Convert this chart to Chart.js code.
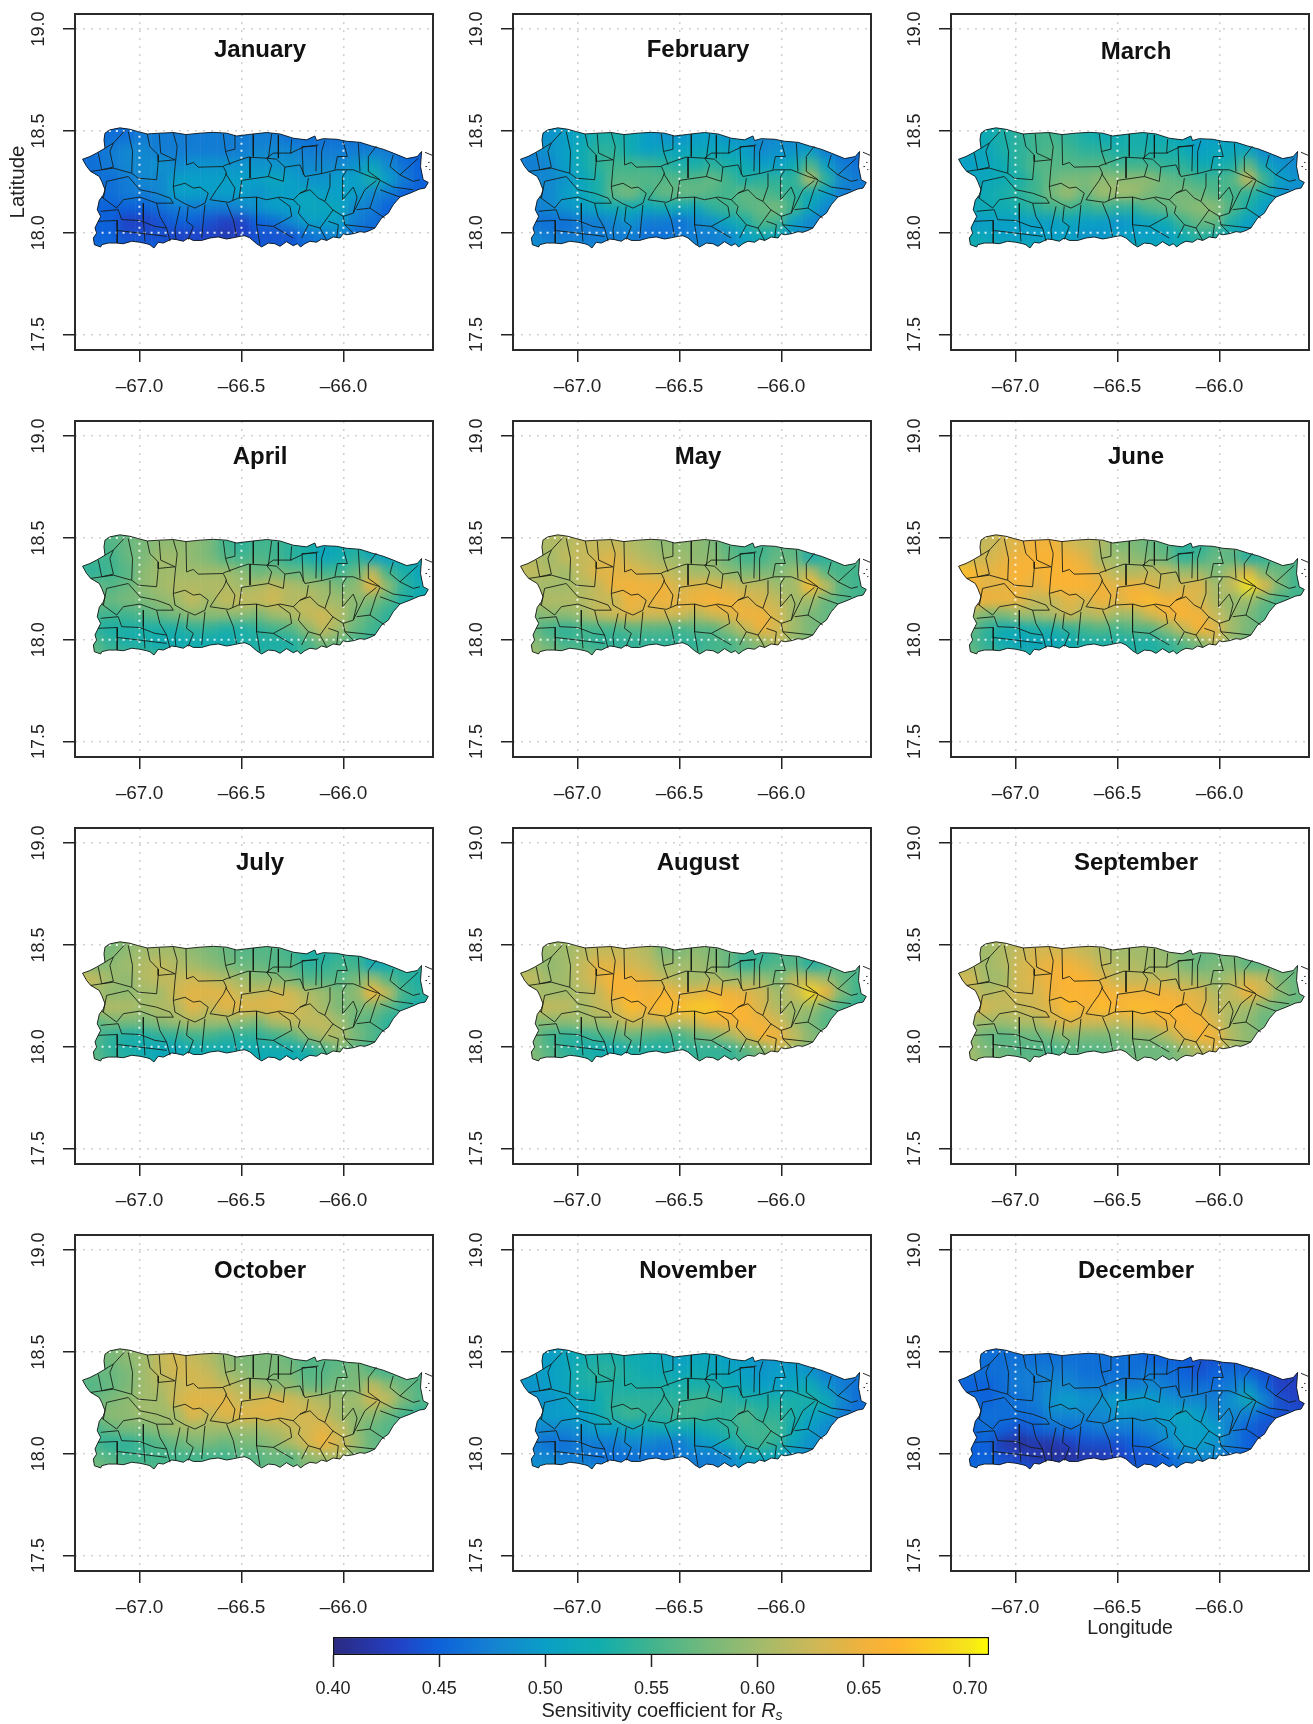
<!DOCTYPE html>
<html><head><meta charset="utf-8">
<style>html,body{margin:0;padding:0;background:#fff;overflow:hidden}canvas{position:absolute;display:block}</style>
<script src="https://cdn.jsdelivr.net/npm/chart.js@4"></script>
</head><body>
<script>
const months=['January','February','March','April','May','June','July','August','September','October','November','December'];
const lonTicks=[-67,-66.5,-66];
const latTicks=[17.5,18,18.5,19];
const colorbarTicks=[0.40,0.45,0.50,0.55,0.60,0.65,0.70];
const lonCols=[-67.30,-67.22,-67.14,-67.06,-66.98,-66.90,-66.82,-66.74,-66.66,-66.58,-66.50,-66.42,-66.34,-66.26,-66.18,-66.10,-66.02,-65.94,-65.86,-65.78,-65.70,-65.62];
const latRows=[18.47,18.40,18.33,18.26,18.19,18.12,18.05,17.98,17.91];
const northCapLat=18.54;
// sensitivity coefficient x 100, one row per latitude, one column per longitude
const january=[
[46,46,46,46,47,47,47,47,47,47,47,47,47,46,46,46,46,46,46,46,45,45],
[46,46,47,48,48,47,47,47,47,47,47,48,48,48,47,47,47,47,47,47,45,45],
[46,46,47,48,48,49,48,49,49,49,49,49,49,49,48,48,48,49,51,48,46,45],
[46,46,46,47,48,48,50,50,50,50,50,50,51,50,49,49,50,50,53,50,47,45],
[46,46,46,47,47,48,50,50,50,50,50,49,50,50,51,50,50,50,48,47,45,45],
[45,45,45,45,45,46,47,47,47,47,48,49,50,50,51,51,51,48,47,45,45,45],
[45,45,45,43,43,44,45,45,44,43,43,45,46,48,50,50,50,47,46,45,45,45],
[45,45,45,44,44,44,43,43,43,42,43,44,44,44,46,47,48,46,45,45,45,45],
[46,46,46,45,45,45,45,45,45,45,45,45,45,45,46,46,46,46,45,45,45,45]];
const february=[
[49,49,49,50,51,53,53,52,50,49,49,50,50,49,49,48,48,48,47,47,47,47],
[48,48,49,50,52,54,54,52,50,51,51,51,51,51,50,48,49,49,50,47,46,46],
[47,47,48,50,52,54,55,55,55,54,53,53,54,53,52,50,50,52,56,50,47,46],
[48,48,48,49,51,53,56,56,56,56,56,56,57,55,53,54,54,54,62,54,48,47],
[48,48,48,50,51,53,57,58,55,57,57,57,56,55,57,56,55,54,52,50,47,47],
[47,47,48,49,50,51,52,52,51,52,52,51,54,55,56,57,58,55,51,48,47,47],
[47,46,46,46,47,47,48,49,47,47,46,48,49,51,53,56,55,50,48,47,47,47],
[48,48,47,47,47,47,47,47,46,46,47,47,47,48,50,52,51,49,48,48,48,48],
[49,49,48,48,48,48,48,48,48,48,48,48,48,48,50,50,50,49,49,49,49,49]];
const march=[
[52,52,52,53,54,55,55,54,53,52,52,53,52,52,51,50,50,50,49,49,49,49],
[51,51,51,53,54,55,56,55,54,54,53,53,53,53,52,50,51,51,51,48,48,48],
[50,50,51,52,54,56,56,56,56,56,55,55,55,54,54,52,52,53,57,51,49,48],
[51,51,51,52,53,55,57,58,58,59,59,59,59,57,56,55,55,56,63,55,50,49],
[51,51,52,53,54,55,58,60,57,60,60,60,58,57,58,57,56,55,54,52,49,48],
[51,51,52,52,53,54,55,55,54,55,54,54,56,57,58,59,59,56,53,50,49,49],
[51,49,50,50,50,50,50,51,50,50,49,50,51,52,55,57,57,53,50,49,49,49],
[52,52,51,50,50,50,50,50,49,49,50,50,50,50,52,54,53,51,50,50,50,50],
[53,53,52,52,52,52,52,52,52,52,52,52,52,52,52,53,53,52,52,52,52,52]];
const april=[
[56,56,56,57,58,59,59,59,58,55,54,55,55,54,53,51,52,53,52,53,54,54],
[55,55,55,57,58,60,60,59,58,56,55,56,55,54,53,51,52,54,51,50,52,52],
[54,54,55,56,59,60,60,60,60,60,59,57,58,57,57,55,55,57,62,55,53,51],
[57,57,56,57,59,60,61,61,61,61,60,61,62,61,60,60,58,59,65,59,54,52],
[58,58,57,58,58,59,60,62,60,62,62,62,63,61,62,60,60,59,58,56,53,52],
[56,55,55,55,56,57,58,59,59,59,59,58,60,61,62,63,61,58,56,54,53,53],
[55,54,53,53,53,53,53,54,54,53,53,54,55,56,59,62,60,57,55,54,53,53],
[56,56,54,53,53,52,52,52,52,52,53,53,53,53,55,58,57,55,54,54,54,54],
[57,57,56,56,55,55,54,54,54,54,54,54,54,54,55,55,55,55,55,55,55,55]];
const may=[
[60,60,61,61,62,62,62,61,60,59,59,59,58,56,55,55,56,56,57,57,57,57],
[61,61,60,62,62,63,64,62,61,60,60,59,59,57,55,55,57,57,52,54,56,56],
[62,62,61,60,62,64,64,64,63,62,61,60,60,59,58,58,58,60,62,56,55,55],
[60,60,60,60,61,62,65,65,65,65,63,64,64,63,62,62,60,60,67,62,56,55],
[61,61,61,61,61,62,62,65,64,65,64,65,66,65,64,63,62,60,60,57,56,55],
[59,58,59,59,60,62,63,64,63,63,63,61,63,64,65,65,63,60,58,57,55,55],
[58,57,55,54,55,55,55,56,56,56,55,56,56,59,62,65,63,60,58,57,57,57],
[59,59,57,55,55,54,54,54,54,54,54,54,55,55,57,59,62,59,58,58,58,58],
[60,60,59,58,57,57,56,56,56,56,56,56,56,56,57,58,59,59,59,59,59,59]];
const june=[
[62,62,62,63,64,65,65,63,62,61,58,58,57,56,54,54,56,58,56,57,58,58],
[62,62,63,64,65,66,66,65,64,60,60,59,58,57,54,55,57,56,53,54,56,56],
[68,67,64,65,66,65,66,66,65,63,61,61,62,62,60,60,58,61,64,58,57,55],
[65,65,64,64,65,64,66,66,66,65,64,65,64,62,63,64,60,62,70,64,58,55],
[65,65,65,65,64,62,62,64,63,65,64,66,67,65,65,63,61,59,60,57,55,55],
[62,60,58,58,60,60,61,63,61,62,60,60,63,65,66,65,62,60,58,56,55,55],
[58,57,54,52,52,53,53,54,55,56,55,56,56,59,62,66,64,60,58,56,56,56],
[57,56,54,52,51,51,51,52,53,53,53,53,53,54,56,58,62,59,57,57,57,57],
[58,58,56,55,54,53,53,53,54,54,54,54,54,54,55,57,58,58,58,58,58,58]];
const july=[
[58,58,58,59,60,60,60,59,58,57,56,56,56,55,53,53,54,54,54,55,55,55],
[58,58,59,60,61,62,61,60,59,58,57,57,56,56,54,54,55,55,51,52,54,54],
[63,62,60,59,61,62,62,63,62,61,60,59,59,58,56,56,56,58,60,56,54,53],
[60,60,59,59,60,60,63,64,64,64,62,62,63,63,61,60,58,59,66,62,55,54],
[61,62,61,61,60,61,61,64,62,64,64,64,64,63,62,60,58,58,58,56,54,52],
[58,56,58,58,58,59,60,61,60,60,59,58,61,62,62,62,60,57,56,54,53,53],
[57,56,54,53,53,54,54,55,55,54,54,54,55,56,59,61,61,58,56,54,54,54],
[56,56,54,53,52,51,51,52,52,52,52,52,52,52,53,55,58,56,55,55,55,55],
[57,57,55,54,53,52,52,52,53,53,53,52,52,52,52,54,55,55,56,56,56,56]];
const august=[
[59,59,60,60,61,62,62,62,61,58,58,59,58,57,55,54,55,56,56,57,57,57],
[60,60,59,60,62,64,64,63,62,60,60,60,59,57,54,55,56,56,53,54,56,56],
[62,62,60,60,62,64,66,65,64,62,61,60,61,60,60,60,58,62,62,60,57,55],
[60,60,60,60,61,62,65,66,65,66,64,64,65,65,64,63,60,62,69,65,58,55],
[63,63,62,62,60,62,63,67,65,67,67,68,68,66,66,63,61,60,60,57,55,54],
[60,58,59,59,60,60,61,63,62,63,62,63,65,65,66,65,63,60,58,56,55,55],
[59,58,55,54,54,55,56,57,56,55,55,57,58,60,63,66,65,62,59,57,56,56],
[58,58,56,54,53,52,52,53,53,53,54,54,54,54,56,58,62,60,58,58,58,58],
[59,59,57,56,54,54,53,54,55,55,55,55,55,55,56,58,59,59,59,59,59,59]];
const september=[
[60,60,60,61,62,63,63,63,62,61,60,60,60,59,58,57,57,58,58,58,58,58],
[61,61,60,61,63,64,65,65,64,62,61,61,60,60,58,57,58,58,56,56,57,57],
[63,63,60,60,63,64,65,66,66,64,62,62,62,62,61,60,59,61,63,62,58,57],
[62,62,61,62,63,63,65,66,66,66,65,65,65,65,64,64,61,62,65,63,59,57],
[64,64,63,62,62,63,64,67,65,67,66,67,67,66,66,64,62,61,60,58,57,57],
[61,60,60,60,61,61,63,64,63,63,62,63,64,65,66,66,63,60,59,57,57,57],
[60,59,57,56,57,57,58,59,58,58,58,59,59,61,64,66,65,61,59,58,58,58],
[60,60,58,57,56,56,55,56,56,56,57,57,57,57,59,61,63,60,59,59,59,59],
[60,60,59,58,57,57,56,57,57,57,58,58,58,58,58,60,60,60,60,60,60,60]];
const october=[
[58,58,58,59,60,62,63,62,61,59,58,58,58,57,56,56,56,57,56,56,56,56],
[57,57,57,58,60,62,63,63,62,60,59,58,58,58,56,56,57,58,56,55,56,56],
[56,56,57,58,60,61,62,63,63,62,61,60,59,59,57,57,58,58,62,59,57,56],
[57,57,58,59,60,60,63,64,64,64,62,63,64,63,62,61,60,60,63,62,58,56],
[58,58,59,59,60,60,60,64,62,64,64,64,64,63,63,62,60,59,59,57,55,54],
[56,55,57,58,58,59,60,60,60,60,60,60,61,62,63,64,62,59,57,56,55,55],
[56,55,54,54,55,56,57,58,58,57,58,58,59,61,63,65,63,60,57,56,56,56],
[57,57,56,55,55,55,55,55,55,55,56,56,57,56,59,60,61,58,57,57,57,57],
[58,58,57,56,56,56,56,56,56,56,57,57,57,57,58,58,59,58,58,58,58,58]];
const november=[
[50,50,50,51,52,53,53,52,52,51,50,51,51,50,50,49,49,49,49,48,48,48],
[50,50,50,51,53,54,54,53,52,52,51,52,51,51,50,49,50,50,49,47,47,47],
[49,49,50,51,53,53,53,53,53,53,53,53,53,52,51,50,50,51,52,49,47,46],
[49,49,49,50,51,52,54,54,54,54,54,55,55,54,53,53,53,53,53,52,48,46],
[49,49,50,50,50,52,54,55,54,54,55,55,54,54,56,54,54,53,51,50,47,46],
[48,48,48,48,49,50,50,51,51,52,52,52,53,54,55,55,55,52,50,48,47,47],
[48,47,46,46,47,47,47,48,48,47,47,49,50,52,54,55,54,51,49,48,47,47],
[49,48,48,47,47,46,46,46,46,46,47,47,47,48,50,51,51,49,48,48,48,48],
[49,49,49,48,48,48,47,47,47,47,47,47,47,48,49,49,49,49,49,49,49,49]];
const december=[
[46,46,46,46,46,46,46,46,46,46,46,46,45,45,45,44,44,44,44,44,44,44],
[46,46,46,46,47,47,47,47,46,46,46,46,47,46,45,44,45,46,45,44,43,43],
[45,45,45,46,47,47,48,48,47,47,47,47,48,47,46,46,46,47,49,45,43,43],
[46,46,45,46,46,47,49,50,49,49,50,50,50,49,48,48,47,49,52,48,44,43],
[46,46,46,46,46,46,48,48,48,48,49,49,49,50,51,50,48,48,47,45,44,44],
[45,45,46,45,44,45,46,46,46,47,47,47,48,49,50,50,50,47,45,44,44,44],
[45,45,45,42,41,42,42,43,44,44,44,45,46,48,50,50,49,47,45,44,44,44],
[45,45,45,44,43,42,41,41,42,42,43,44,44,45,47,48,48,46,45,45,45,45],
[46,46,46,45,45,44,44,44,44,44,44,45,45,45,46,46,46,46,46,46,46,46]];
const monthValues=[january,february,march,april,may,june,july,august,september,october,november,december];

// island coastline, [longitude, latitude]
const coast=[[-67.169,18.489],[-67.145,18.505],[-67.096,18.515],[-67.047,18.508],[-67.001,18.495],[-66.962,18.485],[-66.9,18.489],[-66.834,18.492],[-66.772,18.482],[-66.703,18.489],[-66.638,18.493],[-66.573,18.489],[-66.524,18.475],[-66.442,18.485],[-66.377,18.492],[-66.311,18.485],[-66.246,18.464],[-66.181,18.456],[-66.14,18.475],[-66.132,18.453],[-66.099,18.462],[-66.034,18.459],[-65.984,18.449],[-65.919,18.444],[-65.862,18.426],[-65.805,18.41],[-65.756,18.391],[-65.69,18.364],[-65.638,18.374],[-65.617,18.399],[-65.622,18.325],[-65.609,18.26],[-65.584,18.247],[-65.6,18.219],[-65.628,18.214],[-65.674,18.194],[-65.723,18.175],[-65.756,18.137],[-65.78,18.096],[-65.813,18.072],[-65.846,18.023],[-65.87,18.011],[-65.895,18.002],[-65.919,18.005],[-65.952,17.995],[-65.984,17.99],[-66.001,17.995],[-66.017,17.974],[-66.05,17.979],[-66.082,17.962],[-66.107,17.969],[-66.132,17.953],[-66.164,17.958],[-66.189,17.946],[-66.21,17.93],[-66.226,17.946],[-66.246,17.936],[-66.279,17.956],[-66.311,17.933],[-66.336,17.946],[-66.368,17.949],[-66.401,17.93],[-66.426,17.946],[-66.458,17.974],[-66.483,17.985],[-66.507,17.982],[-66.54,17.975],[-66.573,17.969],[-66.614,17.979],[-66.654,17.974],[-66.695,17.962],[-66.736,17.962],[-66.761,17.974],[-66.785,17.958],[-66.818,17.966],[-66.842,17.969],[-66.883,17.949],[-66.908,17.953],[-66.929,17.925],[-66.949,17.941],[-66.965,17.946],[-66.998,17.953],[-67.038,17.958],[-67.079,17.946],[-67.112,17.949],[-67.153,17.949],[-67.185,17.941],[-67.19,17.93],[-67.221,17.941],[-67.226,17.974],[-67.21,17.998],[-67.218,18.023],[-67.207,18.047],[-67.19,18.08],[-67.207,18.113],[-67.197,18.159],[-67.177,18.186],[-67.169,18.211],[-67.185,18.252],[-67.197,18.276],[-67.239,18.301],[-67.259,18.325],[-67.279,18.361],[-67.243,18.374],[-67.21,18.391],[-67.169,18.415],[-67.174,18.456],[-67.169,18.489]];
// small outlying cays east of the main island
const cays=[[[-65.6,18.395],[-65.565,18.38]],[[-65.585,18.345],[-65.578,18.345]],[[-65.598,18.325],[-65.59,18.325]],[[-65.58,18.31],[-65.574,18.31]]];
// municipal boundaries, [longitude, latitude]
const boundaries=[
[[-67.169,18.415],[-67.128,18.44],[-67.071,18.502]],
[[-67.128,18.44],[-67.145,18.399],[-67.128,18.322],[-67.185,18.309],[-67.239,18.301]],
[[-67.202,18.391],[-67.185,18.309]],
[[-67.055,18.497],[-67.034,18.399],[-67.038,18.292]],
[[-67.185,18.309],[-67.128,18.317],[-67.038,18.292],[-67.006,18.268],[-66.916,18.26],[-66.908,18.35]],
[[-66.962,18.485],[-66.949,18.423],[-66.908,18.382],[-66.908,18.35],[-66.826,18.358]],
[[-66.903,18.485],[-66.896,18.391],[-66.826,18.358]],
[[-66.834,18.489],[-66.815,18.423],[-66.826,18.322],[-66.834,18.227]],
[[-66.772,18.482],[-66.769,18.333],[-66.736,18.345],[-66.712,18.322],[-66.589,18.325],[-66.573,18.292],[-66.589,18.257],[-66.622,18.211],[-66.654,18.162]],
[[-66.589,18.328],[-66.507,18.358],[-66.467,18.371],[-66.377,18.366],[-66.352,18.333],[-66.368,18.276],[-66.499,18.257],[-66.511,18.17]],
[[-66.556,18.333],[-66.578,18.399],[-66.532,18.41],[-66.532,18.48]],
[[-66.578,18.399],[-66.589,18.485]],
[[-66.458,18.371],[-66.458,18.268]],
[[-66.442,18.485],[-66.442,18.374]],
[[-66.352,18.485],[-66.368,18.366]],
[[-66.319,18.48],[-66.319,18.366]],
[[-66.254,18.459],[-66.259,18.391],[-66.197,18.42],[-66.123,18.431]],
[[-66.377,18.366],[-66.328,18.361],[-66.287,18.322],[-66.213,18.333],[-66.189,18.276],[-66.099,18.292],[-66.034,18.309],[-65.952,18.309],[-65.87,18.276],[-65.821,18.26]],
[[-66.287,18.322],[-66.295,18.252],[-66.368,18.276]],
[[-66.834,18.227],[-66.777,18.243],[-66.736,18.219],[-66.703,18.224],[-66.663,18.194],[-66.679,18.145],[-66.728,18.121],[-66.777,18.142],[-66.826,18.17],[-66.834,18.227]],
[[-67.055,18.276],[-66.998,18.211],[-66.916,18.194],[-66.85,18.17],[-66.834,18.145],[-66.916,18.145],[-66.998,18.175],[-67.079,18.162],[-67.112,18.121],[-67.185,18.175]],
[[-67.055,18.276],[-67.161,18.252],[-67.177,18.17]],
[[-67.19,18.105],[-67.104,18.113],[-67.087,18.064],[-66.998,18.06],[-66.924,18.031],[-66.867,18.023]],
[[-66.981,18.145],[-66.981,18.064],[-66.973,17.957]],
[[-66.916,18.145],[-66.9,18.08],[-66.867,18.023],[-66.85,17.958]],
[[-66.801,18.129],[-66.826,18.015],[-66.821,17.966]],
[[-66.761,18.129],[-66.769,18.056],[-66.736,18.031],[-66.761,17.966]],
[[-66.679,18.137],[-66.695,17.974]],
[[-66.573,18.145],[-66.54,18.064],[-66.524,17.982]],
[[-66.654,18.162],[-66.564,18.149],[-66.515,18.17],[-66.426,18.175],[-66.377,18.162],[-66.311,18.175],[-66.246,18.162],[-66.213,18.194],[-66.181,18.211],[-66.172,18.268]],
[[-66.426,18.175],[-66.426,18.039],[-66.344,18.031],[-66.254,18.08],[-66.262,18.129],[-66.319,18.17]],
[[-66.426,18.039],[-66.409,17.941]],
[[-66.344,18.031],[-66.246,17.974]],
[[-66.246,18.162],[-66.213,18.129],[-66.221,18.096],[-66.172,18.039],[-66.115,18.023],[-66.05,18.113]],
[[-66.213,18.194],[-66.164,18.211],[-66.123,18.17],[-66.091,18.154],[-66.053,18.113]],
[[-66.091,18.154],[-66.066,18.227],[-66.066,18.292]],
[[-66.053,18.113],[-66.001,18.08],[-65.952,18.096],[-65.933,18.175],[-65.952,18.224],[-66.004,18.162],[-66.004,18.276],[-65.985,18.305]],
[[-65.952,18.096],[-65.895,18.211],[-65.838,18.257]],
[[-65.935,18.113],[-65.87,18.121],[-65.797,18.072]],
[[-65.87,18.121],[-65.841,18.211],[-65.821,18.257],[-65.756,18.224],[-65.658,18.211]],
[[-65.821,18.211],[-65.723,18.175]],
[[-65.821,18.26],[-65.878,18.301],[-65.878,18.374],[-65.838,18.426]],
[[-65.756,18.382],[-65.772,18.325],[-65.723,18.284],[-65.633,18.366]],
[[-65.723,18.284],[-65.658,18.252],[-65.625,18.26]],
[[-65.927,18.44],[-65.919,18.301]],
[[-66.042,18.309],[-66.03,18.374],[-65.981,18.374],[-66.001,18.448]],
[[-66.197,18.284],[-66.203,18.423],[-66.132,18.426],[-66.135,18.301]],
[[-66.107,18.292],[-66.107,18.399],[-66.091,18.453]],
[[-66.001,18.08],[-65.993,18.039],[-65.949,17.995]],
[[-65.993,18.039],[-65.846,18.023]],
[[-66.115,18.023],[-66.082,17.962]],
[[-66.172,18.039],[-66.205,17.974]],
[[-67.202,18.056],[-67.109,18.06],[-67.109,17.949]],
[[-67.109,18.011],[-66.998,17.998],[-66.867,17.982]],
[[-66.074,18.056],[-66.025,18.039],[-66.033,17.974]],
[[-66.377,18.366],[-66.344,18.391],[-66.254,18.391]],
[[-66.578,18.292],[-66.532,18.219],[-66.543,18.158]]
];
// stretches of the graticule that show white over the map
const gridOverIsland=[[[-67,17.985],[-67,18.495]],[[-66.5,17.985],[-66.5,18.47]],[[-66,17.985],[-66,18.44]],[[-67.22,18],[-65.885,18]],[[-67.15,18.5],[-67,18.5]]];
const colorStops=[[0.40,'#2b2a80'],[0.43,'#2340c4'],[0.45,'#0d62da'],[0.475,'#1582d2'],[0.50,'#0a9fc6'],[0.525,'#10adae'],[0.55,'#40b48e'],[0.575,'#72b97c'],[0.60,'#a0bb6c'],[0.625,'#cbb858'],[0.65,'#f0b23c'],[0.665,'#ffb430'],[0.685,'#f9cf22'],[0.70,'#f6e61a'],[0.709,'#ffff00']];

const FONT="'Liberation Sans', Arial, sans-serif";
const INK='#222';
function hex(c){return [1,3,5].map(i=>parseInt(c.substr(i,2),16));}
function colorOf(v){
  if(v<=colorStops[0][0])return colorStops[0][1];
  for(let i=1;i<colorStops.length;i++){
    if(v<=colorStops[i][0]){
      const a=colorStops[i-1],b=colorStops[i],t=(v-a[0])/(b[0]-a[0]);
      const A=hex(a[1]),B=hex(b[1]);
      return 'rgb('+A.map((q,k)=>Math.round(q+(B[k]-q)*t)).join(',')+')';
    }
  }
  return colorStops[colorStops.length-1][1];
}
function cellsOf(values){
  const pts=[];
  const push=(row,lat)=>row.forEach((v,i)=>pts.push({x:lonCols[i],y:lat,v:v/100}));
  push(values[0],northCapLat);
  values.forEach((row,r)=>push(row,latRows[r]));
  return pts;
}
function lines(list){
  const out=[];
  list.forEach(l=>{l.forEach(p=>out.push({x:p[0],y:p[1]}));out.push({x:NaN,y:NaN});});
  return out;
}
function noPadding(s){s.paddingLeft=s.paddingRight=s.paddingTop=s.paddingBottom=0;}
const mapPlugin={
  id:'mapRaster',
  beforeDatasetDraw(chart,args){
    if(chart.data.datasets[args.index].label!=='cells')return;
    const W=chart.canvas.width,H=chart.canvas.height;
    const off=document.createElement('canvas');off.width=W;off.height=H;
    const oc=off.getContext('2d');
    args.meta.data.forEach(el=>el.draw(oc));
    const ctx=chart.ctx,xs=chart.scales.x,ys=chart.scales.y;
    ctx.save();
    ctx.beginPath();
    coast.forEach((p,i)=>{const X=xs.getPixelForValue(p[0]),Y=ys.getPixelForValue(p[1]);i?ctx.lineTo(X,Y):ctx.moveTo(X,Y);});
    ctx.closePath();ctx.clip();
    ctx.drawImage(off,0,0);
    ctx.filter='blur(6px)';
    ctx.drawImage(off,0,0);
    ctx.filter='none';
    ctx.restore();
    return false;
  },
  afterDraw(chart,_,opts){
    const ctx=chart.ctx,a=chart.chartArea;
    ctx.save();
    ctx.strokeStyle='#2a2a2a';ctx.lineWidth=2;
    ctx.strokeRect(a.left,a.top,a.right-a.left,a.bottom-a.top);
    ctx.fillStyle='#111';ctx.font='bold 24px '+FONT;ctx.textAlign='center';ctx.textBaseline='middle';
    ctx.fillText(opts.heading,(a.left+a.right)/2+6,a.top+opts.headingDy);
    ctx.restore();
  }
};
const frameLefts=[75,513,950.5];
const frameTops=[14,421,828,1235];
const frameW=358,frameH=336,leftGutter=75,topGutter=14,rightGutter=12;
const headingDy=[36,36,38,36,36,36,35,35,35,36,36,36];
months.forEach((m,i)=>{
  const col=i%3,row=Math.floor(i/3);
  const isDec=m==='December',isJan=m==='January';
  const axisH=isDec?72:60;
  const c=document.createElement('canvas');
  const cw=leftGutter+frameW+rightGutter,ch=topGutter+frameH+axisH;
  c.width=cw;c.height=ch;
  c.style.left=(frameLefts[col]-leftGutter)+'px';
  c.style.top=(frameTops[row]-topGutter)+'px';
  c.style.width=cw+'px';c.style.height=ch+'px';
  document.body.appendChild(c);
  const cells=cellsOf(monthValues[i]);
  new Chart(c,{
    type:'scatter',
    data:{datasets:[
      {label:'cays',data:lines(cays),showLine:true,borderColor:'rgba(15,15,15,.9)',borderWidth:1,pointRadius:0,tension:0},
      {label:'coast',data:lines([coast]),showLine:true,borderColor:'rgba(15,15,15,.85)',borderWidth:1,pointRadius:0,tension:0},
      {label:'boundaries',data:lines(boundaries),showLine:true,borderColor:'rgba(20,25,20,.85)',borderWidth:1,pointRadius:0,tension:0},
      {label:'grid',data:lines(gridOverIsland),showLine:true,borderColor:'rgba(255,255,255,.85)',borderWidth:2,borderDash:[2,5],pointRadius:0,tension:0},
      {label:'cells',data:cells,pointStyle:'rect',pointRadius:11,pointBorderWidth:0,borderWidth:0,pointBackgroundColor:cells.map(p=>colorOf(p.v))}
    ]},
    options:{
      responsive:false,animation:false,devicePixelRatio:1,
      layout:{padding:{left:0,right:rightGutter,top:topGutter,bottom:0}},
      plugins:{legend:{display:false},tooltip:{enabled:false},mapRaster:{heading:m,headingDy:headingDy[i]}},
      events:[],
      scales:{
        x:{type:'linear',position:'bottom',min:-67.316,max:-65.561,
          afterBuildTicks:s=>{s.ticks=lonTicks.map(v=>({value:v}));},
          afterFit:s=>{s.height=axisH;noPadding(s);},
          grid:{color:'#d3cfcf',lineWidth:1.5,tickColor:INK,tickWidth:1.5,tickLength:12,tickBorderDash:[]},
          border:{display:false,dash:[2,6]},
          ticks:{autoSkip:false,maxRotation:0,minRotation:0,padding:13,color:INK,font:{family:FONT,size:19},callback:v=>'\u2013'+Math.abs(v).toFixed(1)},
          title:{display:isDec,text:'Longitude',color:INK,font:{family:FONT,size:19.5},padding:{top:0,bottom:3}}
        },
        y:{type:'linear',position:'left',min:17.424,max:19.074,
          afterBuildTicks:s=>{s.ticks=latTicks.map(v=>({value:v}));},
          afterFit:s=>{s.width=leftGutter;noPadding(s);},
          grid:{color:'#d3cfcf',lineWidth:1.5,tickColor:INK,tickWidth:1.5,tickLength:12,tickBorderDash:[]},
          border:{display:false,dash:[2,6]},
          ticks:{autoSkip:false,minRotation:90,maxRotation:90,crossAlign:'center',padding:6,color:INK,font:{family:FONT,size:18},callback:v=>v.toFixed(1)},
          title:{display:isJan,text:'Latitude',color:INK,font:{family:FONT,size:20.5},padding:{top:6,bottom:0}}
        }
      }
    },
    plugins:[mapPlugin]
  });
});

// colour bar
const barCanvas=document.createElement('canvas');
barCanvas.width=736;barCanvas.height=88;
barCanvas.style.left='293px';barCanvas.style.top='1636px';barCanvas.style.width='736px';barCanvas.style.height='88px';
document.body.appendChild(barCanvas);
const barLabelPlugin={id:'barLabel',afterDraw(chart){
  const ctx=chart.ctx;
  ctx.save();
  ctx.fillStyle=INK;ctx.textBaseline='middle';ctx.textAlign='left';
  const a='Sensitivity coefficient for ';
  ctx.font='20px '+FONT;const wa=ctx.measureText(a).width;
  ctx.font='italic 20px '+FONT;const wb=ctx.measureText('R').width;
  ctx.font='italic 14px '+FONT;const wc=ctx.measureText('s').width;
  let x=662-293-(wa+wb+wc)/2;const y=75;
  ctx.font='20px '+FONT;ctx.fillText(a,x,y);x+=wa;
  ctx.font='italic 20px '+FONT;ctx.fillText('R',x,y);x+=wb;
  ctx.font='italic 14px '+FONT;ctx.fillText('s',x,y+5);
  ctx.restore();
}};
new Chart(barCanvas,{
  type:'bar',
  data:{labels:[''],datasets:[{label:'Sensitivity coefficient',data:[[0.40,0.709]],barPercentage:1,categoryPercentage:1,borderColor:'#111',borderWidth:1.5,borderSkipped:false,
    backgroundColor:ctx=>{
      const a=ctx.chart.chartArea;if(!a)return '#888';
      const g=ctx.chart.ctx.createLinearGradient(a.left,0,a.right,0);
      colorStops.forEach(s=>g.addColorStop((s[0]-0.40)/0.309,s[1]));
      return g;
    }}]},
  options:{
    indexAxis:'y',responsive:false,animation:false,devicePixelRatio:1,events:[],
    layout:{padding:{left:40,right:40,top:1,bottom:0}},
    plugins:{legend:{display:false},tooltip:{enabled:false}},
    scales:{
      y:{type:'category',display:false},
      x:{type:'linear',min:0.40,max:0.709,
        afterBuildTicks:s=>{s.ticks=colorbarTicks.map(v=>({value:v}));},
        afterFit:s=>{s.height=69;noPadding(s);},
        grid:{drawOnChartArea:false,tickColor:INK,tickWidth:1.5,tickLength:12},
        border:{display:false},
        ticks:{autoSkip:false,maxRotation:0,minRotation:0,padding:11,color:INK,font:{family:FONT,size:18},callback:v=>v.toFixed(2)}
      }
    }
  },
  plugins:[barLabelPlugin]
});
</script>
</body></html>
